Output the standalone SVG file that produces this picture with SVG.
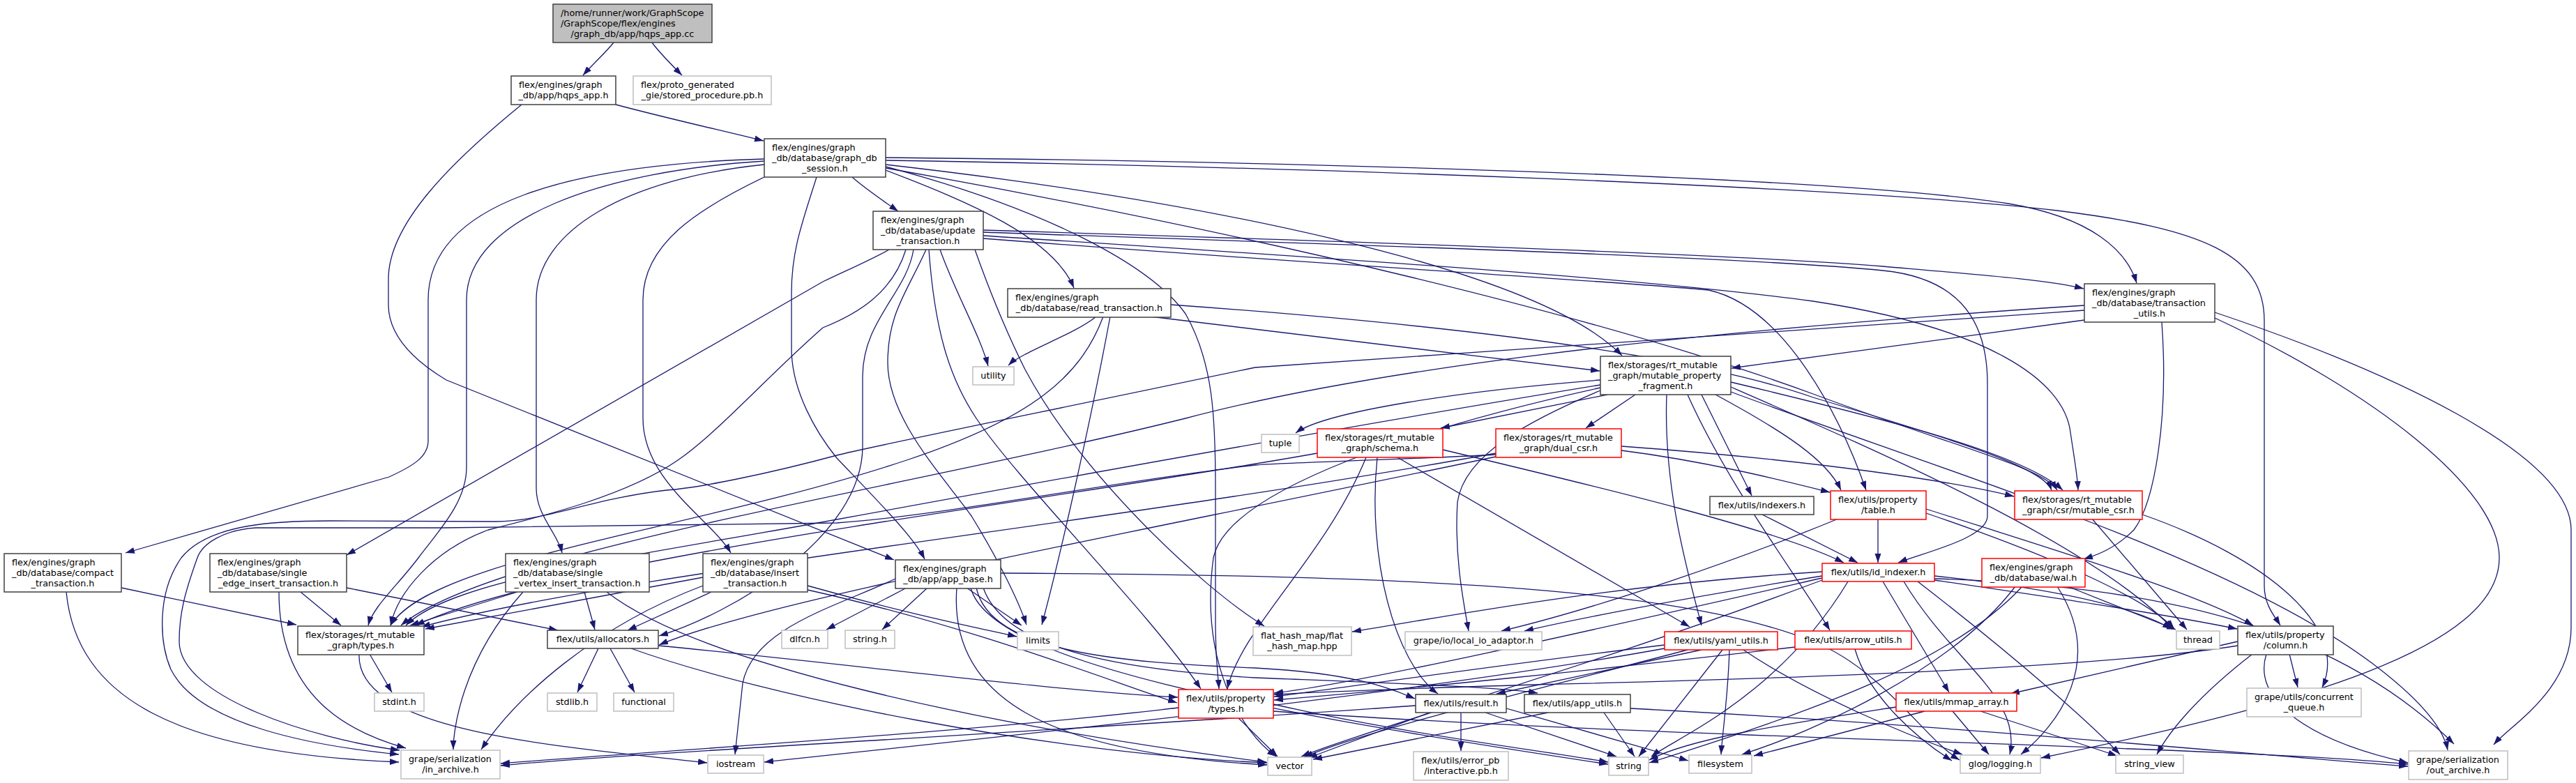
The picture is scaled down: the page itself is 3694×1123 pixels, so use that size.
<svg xmlns="http://www.w3.org/2000/svg" width="3694" height="1123" viewBox="0 0 3694 1123">
<defs>
<marker id="a" markerUnits="userSpaceOnUse" markerWidth="14" markerHeight="10" refX="13" refY="5" orient="auto"><path d="M0,0.5 L13,5 L0,9.5 z" fill="#191970"/></marker>
<style>
rect{fill:#fff;stroke-width:1.5}
.d rect{stroke:#404040}
.r rect{stroke:#ff0000}
.g rect{stroke:#bfbfbf}
.root rect{fill:#bfbfbf;stroke:#404040}
text{font-family:"DejaVu Sans","Liberation Sans",sans-serif;font-size:12.8px;fill:#000}
.m{text-anchor:middle}
#edges path{fill:none;stroke:#191970;stroke-width:1.3;marker-end:url(#a)}
</style>
</defs>
<rect x="0" y="0" width="3694" height="1123" style="fill:#fff;stroke:none"/>
<g id="edges">
<path d="M880,61 C868,76 850,92 836,108"/>
<path d="M935,61 C946,76 962,92 978,108"/>
<path d="M883,150 C950,168 1030,186 1095,202"/>
<path d="M748,150 C650,230 557,320 557,400 L557,437 C557,480 590,515 640,545 L1282,803"/>
<path d="M1222,254 C1240,270 1265,287 1288,303"/>
<path d="M1270,244 C1390,290 1510,340 1540,413"/>
<path d="M1270,236 C1700,285 2200,380 2326,510"/>
<path d="M1270,226 C1900,232 2650,255 2880,292 C3000,312 3050,360 3064,406"/>
<path d="M1270,230 C2000,242 2700,272 2950,302 C3160,328 3247,365 3247,460 L3247,840 C3247,868 3262,884 3270,897"/>
<path d="M1096,228 C820,236 614,290 614,430 L614,632 C614,655 593,668 558,684 L180,793"/>
<path d="M1096,231 C870,245 669,310 669,430 L669,670 C669,720 630,760 600,800 C570,840 535,870 528,897"/>
<path d="M1096,236 C900,256 769,330 769,430 L769,700 C769,740 800,765 806,793"/>
<path d="M1096,254 C1000,300 922,350 922,430 L922,600 C922,690 1020,745 1048,793"/>
<path d="M1171,254 C1150,320 1135,360 1135,420 L1135,500 C1135,560 1170,620 1200,657 C1260,720 1310,770 1326,802"/>
<path d="M1270,239 C1500,300 1650,380 1700,450 C1740,520 1743,600 1743,700 L1743,900 C1743,950 1747,970 1748,988"/>
<path d="M1270,241 C1800,335 2300,455 2600,565 C2800,640 2930,670 2950,703"/>
<path d="M1410,330 C1900,345 2500,365 2700,382 C2850,395 2940,402 2988,414"/>
<path d="M1410,333 C1900,350 2500,368 2700,388 C2800,398 2850,450 2850,550 L2850,740 C2850,772 2760,792 2722,807"/>
<path d="M1410,338 C1900,370 2350,398 2600,432 C2850,470 2960,545 2969,620 C2974,655 2979,680 2980,703"/>
<path d="M1410,342 C1900,380 2300,402 2450,416 C2560,440 2640,600 2676,703"/>
<path d="M1275,358 C1250,372 1220,385 1180,404 L497,796"/>
<path d="M1299,358 C1280,420 1230,450 1180,470 C1100,540 1030,620 972,660 C900,710 780,740 700,760 C620,790 570,850 560,897"/>
<path d="M1310,358 C1300,420 1237,460 1237,540 L1237,640 C1237,770 1050,880 945,912"/>
<path d="M1348,358 C1370,420 1405,480 1417,525"/>
<path d="M1328,358 C1300,420 1273,450 1273,520 C1273,600 1350,680 1393,740 C1430,800 1460,860 1472,896"/>
<path d="M1398,358 C1420,420 1440,470 1470,530 C1550,680 1720,840 1813,898"/>
<path d="M1332,358 C1340,470 1360,540 1400,600 C1460,690 1650,880 1722,988"/>
<path d="M1572,454 C1540,480 1465,505 1446,524"/>
<path d="M1582,454 C1550,540 1480,600 1300,660 C1000,760 620,800 560,897"/>
<path d="M1592,454 C1565,600 1520,800 1494,896"/>
<path d="M1679,437 C2000,460 2400,500 2600,570 C2800,630 2930,670 2942,703"/>
<path d="M1650,454 L2294,532"/>
<path d="M2989,459 L2483,528"/>
<path d="M2989,438 C2500,470 2000,520 1700,600 C1300,700 700,790 575,897"/>
<path d="M3100,462 C3110,600 3090,720 3060,760 C3030,790 3000,798 2988,802"/>
<path d="M2989,445 C2500,480 2000,510 1800,527 C1500,590 1250,640 1200,653 C1100,680 1000,700 956,703 C850,715 780,748 711,748 L474,747 C400,747 300,750 260,800 C225,850 228,920 245,960 C285,1040 450,1070 572,1082"/>
<path d="M2145,652 C2000,660 1850,663 1800,667 C1600,690 1350,740 1200,750 L635,757 L367,757 C320,760 290,780 283,800 C265,850 257,880 257,920 C257,1000 450,1060 573,1076"/>
<path d="M3176,448 C3420,530 3687,650 3687,760 L3687,900 C3687,990 3600,1040 3576,1068"/>
<path d="M3176,456 C3400,560 3584,700 3584,800 C3584,930 3300,1010 2927,1087"/>
<path d="M2295,545 C2100,560 1900,590 1858,621"/>
<path d="M2305,566 L2066,614"/>
<path d="M2345,566 L2274,614"/>
<path d="M2440,566 L2512,711"/>
<path d="M2460,566 C2560,620 2620,660 2640,703"/>
<path d="M2482,548 C2700,600 2900,650 2958,703"/>
<path d="M2390,566 C2385,700 2420,820 2440,897"/>
<path d="M2420,566 C2480,700 2580,830 2624,904"/>
<path d="M2295,560 C2200,600 2100,650 2090,720 C2085,800 2100,870 2106,905"/>
<path d="M2482,555 C2700,650 3000,780 3116,902"/>
<path d="M2295,552 C2000,600 1500,690 1200,745 C900,800 650,830 582,897"/>
<path d="M2295,556 C2050,610 1760,700 1740,800 C1720,950 1780,1050 1830,1085"/>
<path d="M2482,562 C2800,680 3200,800 3400,950 C3480,1010 3505,1050 3510,1076"/>
<path d="M1889,650 C1500,720 800,800 596,897"/>
<path d="M1959,656 C1900,800 1780,900 1760,988"/>
<path d="M1975,656 C1960,800 2000,950 2062,995"/>
<path d="M2004,656 L2423,899"/>
<path d="M2069,645 C2300,700 2550,760 2644,807"/>
<path d="M2325,640 C2600,660 2800,690 2888,712"/>
<path d="M2325,646 C2450,662 2560,690 2624,706"/>
<path d="M2145,650 C1600,750 900,820 604,899"/>
<path d="M2145,655 C1600,770 1100,860 945,925"/>
<path d="M2525,737 L2664,807"/>
<path d="M2693,744 L2693,807"/>
<path d="M2636,744 C2500,800 2300,870 2153,905"/>
<path d="M2762,730 C2950,790 3150,850 3231,897"/>
<path d="M2762,736 C2950,800 3080,860 3118,902"/>
<path d="M3000,744 L3136,903"/>
<path d="M3072,738 C3250,800 3370,900 3330,986"/>
<path d="M2613,820 C2300,840 2100,880 1939,906"/>
<path d="M2613,826 C2400,860 2250,890 2186,905"/>
<path d="M2613,829 C2300,900 1950,980 1827,994"/>
<path d="M2700,834 L2795,993"/>
<path d="M2730,834 C2800,950 2900,1000 2882,1082"/>
<path d="M2774,826 C2950,845 3060,870 3114,902"/>
<path d="M2774,832 C2950,858 3100,880 3208,902"/>
<path d="M2774,830 C3100,840 3350,900 3519,1067"/>
<path d="M2750,834 C2900,950 3000,1040 3040,1082"/>
<path d="M2613,832 C2300,950 1950,1050 1866,1085"/>
<path d="M2650,834 C2550,1000 2400,1060 2368,1085"/>
<path d="M2965,841 L3120,903"/>
<path d="M2950,841 C3020,950 2950,1040 2898,1082"/>
<path d="M2890,841 C2800,960 2600,1050 2498,1082"/>
<path d="M2900,841 C2800,950 2600,1020 2365,1094"/>
<path d="M2387,925 C2100,960 1900,990 1827,999"/>
<path d="M2440,932 L2146,995"/>
<path d="M2470,932 L2350,1085"/>
<path d="M2480,932 C2478,1000 2470,1050 2468,1082"/>
<path d="M2500,932 C2600,1000 2750,1060 2814,1082"/>
<path d="M2420,932 C2200,990 1950,1050 1870,1086"/>
<path d="M2387,930 C2000,1000 1400,1060 1096,1093"/>
<path d="M2660,931 C2680,1000 2750,1060 2799,1091"/>
<path d="M2574,928 C2300,960 2000,990 1827,1004"/>
<path d="M3283,938 L3295,986"/>
<path d="M3209,920 L2883,995"/>
<path d="M3230,938 C3150,1000 3110,1050 3093,1082"/>
<path d="M3250,938 C3230,1000 3300,1060 3453,1094"/>
<path d="M3209,926 C3000,960 2500,975 2200,982 C2000,988 1900,992 1827,996"/>
<path d="M2800,1020 L2852,1082"/>
<path d="M2840,1020 L3036,1084"/>
<path d="M2760,1020 L2515,1084"/>
<path d="M2719,1014 C2550,1040 2420,1060 2365,1090"/>
<path d="M1775,1029 L1832,1085"/>
<path d="M1690,1015 C1400,1050 900,1080 718,1095"/>
<path d="M1826,1020 C2400,1060 3200,1070 3453,1096"/>
<path d="M1826,1010 C2000,1050 2200,1075 2306,1093"/>
<path d="M2095,1022 L2095,1077"/>
<path d="M2050,1022 L1876,1087"/>
<path d="M2130,1022 L2318,1085"/>
<path d="M2160,1016 L2421,1091"/>
<path d="M2030,1012 C1500,1050 900,1080 718,1098"/>
<path d="M2220,1022 L1883,1089"/>
<path d="M2300,1022 L2344,1085"/>
<path d="M2338,1016 C2800,1040 3200,1080 3453,1099"/>
<path d="M1300,843 L1185,903"/>
<path d="M1330,843 L1265,903"/>
<path d="M1386,843 L1465,897"/>
<path d="M1284,830 C1200,870 1080,900 1065,980 L1054,1082"/>
<path d="M1410,843 C1440,930 1600,960 1800,972 C2000,980 2150,985 2205,994"/>
<path d="M1400,843 C1420,935 1600,950 1800,958 C1950,966 2000,990 2029,1002"/>
<path d="M1372,843 C1360,1000 1500,1080 1817,1097"/>
<path d="M1392,843 C1420,950 1800,1020 2306,1096"/>
<path d="M1435,822 C2000,825 2400,840 2600,920 C2700,960 2760,1060 2810,1090"/>
<path d="M174,843 L425,896"/>
<path d="M95,849 C110,1000 250,1080 572,1093"/>
<path d="M431,849 L489,897"/>
<path d="M497,843 L800,904"/>
<path d="M400,849 C400,1000 500,1050 582,1073"/>
<path d="M742,849 L588,897"/>
<path d="M838,849 L853,903"/>
<path d="M750,849 C660,950 650,1050 650,1075"/>
<path d="M870,849 C1000,950 1400,1040 1816,1093"/>
<path d="M1008,828 L610,902"/>
<path d="M1020,849 L900,904"/>
<path d="M1008,840 C850,900 740,1000 690,1075"/>
<path d="M1158,840 C1300,880 1400,900 1458,913"/>
<path d="M1158,846 C1400,900 1600,980 1688,1008"/>
<path d="M530,938 L562,993"/>
<path d="M515,938 C510,1050 800,1070 1014,1094"/>
<path d="M858,930 L828,993"/>
<path d="M875,930 L910,993"/>
<path d="M944,926 C1200,950 1500,990 1689,1000"/>
<path d="M905,930 C1100,1000 1500,1080 1817,1094"/>
</g>
<g id="root" class="root"><rect x="793" y="6" width="228" height="55"/><text x="804" y="23.4">/home/runner/work/GraphScope</text><text x="804" y="38.1">/GraphScope/flex/engines</text><text class="m" x="907" y="52.8">/graph_db/app/hqps_app.cc</text></g>
<g id="hqps_app_h" class="d"><rect x="733" y="109" width="150" height="41"/><text x="744" y="126.4">flex/engines/graph</text><text class="m" x="808" y="141.1">_db/app/hqps_app.h</text></g>
<g id="stored_procedure_pb_h" class="g"><rect x="908" y="109" width="198" height="41"/><text x="919" y="126.4">flex/proto_generated</text><text class="m" x="1007" y="141.1">_gie/stored_procedure.pb.h</text></g>
<g id="graph_db_session_h" class="d"><rect x="1096" y="199" width="174" height="55"/><text x="1107" y="216.4">flex/engines/graph</text><text x="1107" y="231.1">_db/database/graph_db</text><text class="m" x="1183" y="245.8">_session.h</text></g>
<g id="update_transaction_h" class="d"><rect x="1252" y="303" width="158" height="55"/><text x="1263" y="320.4">flex/engines/graph</text><text x="1263" y="335.1">_db/database/update</text><text class="m" x="1331" y="349.8">_transaction.h</text></g>
<g id="read_transaction_h" class="d"><rect x="1445" y="414" width="234" height="41"/><text x="1456" y="431.4">flex/engines/graph</text><text class="m" x="1562" y="446.1">_db/database/read_transaction.h</text></g>
<g id="utility" class="g"><rect x="1395" y="526" width="59" height="26"/><text class="m" x="1424.5" y="543.4">utility</text></g>
<g id="transaction_utils_h" class="d"><rect x="2989" y="407" width="187" height="55"/><text x="3000" y="424.4">flex/engines/graph</text><text x="3000" y="439.1">_db/database/transaction</text><text class="m" x="3082.5" y="453.8">_utils.h</text></g>
<g id="mutable_property_fragment_h" class="d"><rect x="2295" y="511" width="187" height="55"/><text x="2306" y="528.4">flex/storages/rt_mutable</text><text x="2306" y="543.1">_graph/mutable_property</text><text class="m" x="2388.5" y="557.8">_fragment.h</text></g>
<g id="tuple" class="g"><rect x="1809" y="623" width="54" height="26"/><text class="m" x="1836" y="640.4">tuple</text></g>
<g id="schema_h" class="r"><rect x="1889" y="615" width="180" height="41"/><text x="1900" y="632.4">flex/storages/rt_mutable</text><text class="m" x="1979" y="647.1">_graph/schema.h</text></g>
<g id="dual_csr_h" class="r"><rect x="2145" y="615" width="180" height="41"/><text x="2156" y="632.4">flex/storages/rt_mutable</text><text class="m" x="2235" y="647.1">_graph/dual_csr.h</text></g>
<g id="indexers_h" class="d"><rect x="2452" y="712" width="149" height="26"/><text class="m" x="2526.5" y="729.4">flex/utils/indexers.h</text></g>
<g id="table_h" class="r"><rect x="2625" y="704" width="137" height="41"/><text x="2636" y="721.4">flex/utils/property</text><text class="m" x="2693.5" y="736.1">/table.h</text></g>
<g id="mutable_csr_h" class="r"><rect x="2889" y="704" width="183" height="41"/><text x="2900" y="721.4">flex/storages/rt_mutable</text><text class="m" x="2980.5" y="736.1">_graph/csr/mutable_csr.h</text></g>
<g id="id_indexer_h" class="r"><rect x="2613" y="808" width="161" height="26"/><text class="m" x="2693.5" y="825.4">flex/utils/id_indexer.h</text></g>
<g id="wal_h" class="r"><rect x="2842" y="801" width="148" height="41"/><text x="2853" y="818.4">flex/engines/graph</text><text class="m" x="2916" y="833.1">_db/database/wal.h</text></g>
<g id="compact_transaction_h" class="d"><rect x="6" y="794" width="168" height="55"/><text x="17" y="811.4">flex/engines/graph</text><text x="17" y="826.1">_db/database/compact</text><text class="m" x="90" y="840.8">_transaction.h</text></g>
<g id="single_edge_insert_transaction_h" class="d"><rect x="301" y="794" width="196" height="55"/><text x="312" y="811.4">flex/engines/graph</text><text x="312" y="826.1">_db/database/single</text><text class="m" x="399" y="840.8">_edge_insert_transaction.h</text></g>
<g id="single_vertex_insert_transaction_h" class="d"><rect x="725" y="794" width="206" height="55"/><text x="736" y="811.4">flex/engines/graph</text><text x="736" y="826.1">_db/database/single</text><text class="m" x="828" y="840.8">_vertex_insert_transaction.h</text></g>
<g id="insert_transaction_h" class="d"><rect x="1008" y="794" width="150" height="55"/><text x="1019" y="811.4">flex/engines/graph</text><text x="1019" y="826.1">_db/database/insert</text><text class="m" x="1083" y="840.8">_transaction.h</text></g>
<g id="app_base_h" class="d"><rect x="1284" y="803" width="151" height="41"/><text x="1295" y="820.4">flex/engines/graph</text><text class="m" x="1359.5" y="835.1">_db/app/app_base.h</text></g>
<g id="rt_types_h" class="d"><rect x="427" y="898" width="181" height="41"/><text x="438" y="915.4">flex/storages/rt_mutable</text><text class="m" x="517.5" y="930.1">_graph/types.h</text></g>
<g id="allocators_h" class="d"><rect x="785" y="904" width="159" height="26"/><text class="m" x="864.5" y="921.4">flex/utils/allocators.h</text></g>
<g id="dlfcn_h" class="g"><rect x="1121" y="904" width="66" height="26"/><text class="m" x="1154" y="921.4">dlfcn.h</text></g>
<g id="string_h" class="g"><rect x="1212" y="904" width="71" height="26"/><text class="m" x="1247.5" y="921.4">string.h</text></g>
<g id="limits" class="g"><rect x="1459" y="906" width="59" height="26"/><text class="m" x="1488.5" y="923.4">limits</text></g>
<g id="flat_hash_map_hpp" class="g"><rect x="1797" y="899" width="141" height="41"/><text x="1808" y="916.4">flat_hash_map/flat</text><text class="m" x="1867.5" y="931.1">_hash_map.hpp</text></g>
<g id="local_io_adaptor_h" class="g"><rect x="2015" y="906" width="196" height="26"/><text class="m" x="2113" y="923.4">grape/io/local_io_adaptor.h</text></g>
<g id="yaml_utils_h" class="r"><rect x="2387" y="906" width="162" height="26"/><text class="m" x="2468" y="923.4">flex/utils/yaml_utils.h</text></g>
<g id="arrow_utils_h" class="r"><rect x="2574" y="905" width="167" height="26"/><text class="m" x="2657.5" y="922.4">flex/utils/arrow_utils.h</text></g>
<g id="thread" class="g"><rect x="3121" y="905" width="62" height="26"/><text class="m" x="3152" y="922.4">thread</text></g>
<g id="column_h" class="d"><rect x="3209" y="898" width="137" height="41"/><text x="3220" y="915.4">flex/utils/property</text><text class="m" x="3277.5" y="930.1">/column.h</text></g>
<g id="stdint_h" class="g"><rect x="537" y="994" width="71" height="26"/><text class="m" x="572.5" y="1011.4">stdint.h</text></g>
<g id="stdlib_h" class="g"><rect x="785" y="994" width="71" height="26"/><text class="m" x="820.5" y="1011.4">stdlib.h</text></g>
<g id="functional" class="g"><rect x="880" y="994" width="86" height="26"/><text class="m" x="923" y="1011.4">functional</text></g>
<g id="property_types_h" class="r"><rect x="1690" y="989" width="136" height="41"/><text x="1701" y="1006.4">flex/utils/property</text><text class="m" x="1758" y="1021.1">/types.h</text></g>
<g id="result_h" class="d"><rect x="2030" y="996" width="130" height="26"/><text class="m" x="2095" y="1013.4">flex/utils/result.h</text></g>
<g id="app_utils_h" class="d"><rect x="2186" y="996" width="152" height="26"/><text class="m" x="2262" y="1013.4">flex/utils/app_utils.h</text></g>
<g id="concurrent_queue_h" class="g"><rect x="3222" y="987" width="164" height="41"/><text x="3233" y="1004.4">grape/utils/concurrent</text><text class="m" x="3304" y="1019.1">_queue.h</text></g>
<g id="mmap_array_h" class="r"><rect x="2719" y="994" width="173" height="26"/><text class="m" x="2805.5" y="1011.4">flex/utils/mmap_array.h</text></g>
<g id="in_archive_h" class="g"><rect x="575" y="1076" width="142" height="41"/><text x="586" y="1093.4">grape/serialization</text><text class="m" x="646" y="1108.1">/in_archive.h</text></g>
<g id="iostream" class="g"><rect x="1015" y="1083" width="80" height="26"/><text class="m" x="1055" y="1100.4">iostream</text></g>
<g id="vector" class="g"><rect x="1818" y="1086" width="63" height="26"/><text class="m" x="1849.5" y="1103.4">vector</text></g>
<g id="interactive_pb_h" class="g"><rect x="2027" y="1078" width="136" height="41"/><text x="2038" y="1095.4">flex/utils/error_pb</text><text class="m" x="2095" y="1110.1">/interactive.pb.h</text></g>
<g id="string" class="g"><rect x="2307" y="1086" width="57" height="26"/><text class="m" x="2335.5" y="1103.4">string</text></g>
<g id="filesystem" class="g"><rect x="2422" y="1083" width="90" height="26"/><text class="m" x="2467" y="1100.4">filesystem</text></g>
<g id="logging_h" class="g"><rect x="2811" y="1083" width="115" height="26"/><text class="m" x="2868.5" y="1100.4">glog/logging.h</text></g>
<g id="string_view" class="g"><rect x="3034" y="1083" width="97" height="26"/><text class="m" x="3082.5" y="1100.4">string_view</text></g>
<g id="out_archive_h" class="g"><rect x="3454" y="1077" width="142" height="41"/><text x="3465" y="1094.4">grape/serialization</text><text class="m" x="3525" y="1109.1">/out_archive.h</text></g>
</svg>
